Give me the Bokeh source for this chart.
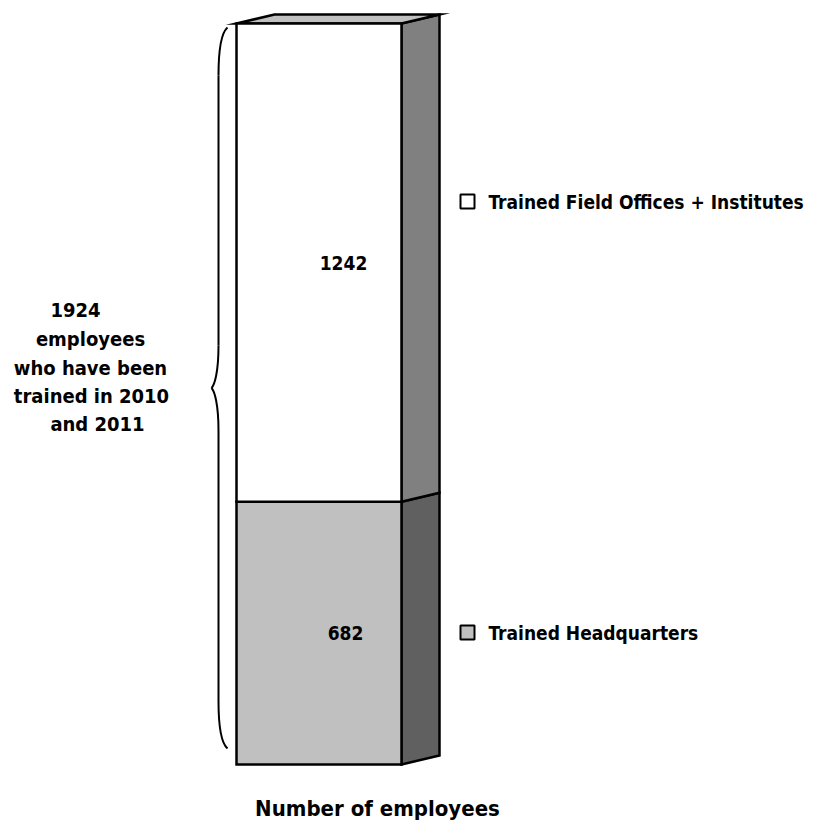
from bokeh.plotting import figure
from bokeh.models import Range1d, ColumnDataSource
from bokeh.core.properties import value
from bokeh.embed import file_html
from bokeh.resources import INLINE

# ---- data ----
categories = ["Trained Headquarters", "Trained Field Offices + Institutes"]
counts = [682, 1242]
count_labels = ["682", "1242"]
total_label_lines = ["1924", "employees", "who have been", "trained in 2010", "and 2011"]
axis_title = "Number of employees"

front_colors = ["#C0C0C0", "#FFFFFF"]
side_colors = ["#606060", "#808080"]
top_color = "#C0C0C0"

FONT = "'DejaVu Sans Condensed', 'DejaVu Sans', sans-serif"

# ---- layout (page pixel geometry) ----
W, H = 816, 822
base_py, top_py = 764, 23          # page y of value 0 and of the total
total = sum(counts)
k = (base_py - top_py) / total      # px per unit
def val(py):                        # page y -> data value
    return (base_py - py) / k

p = figure(width=W, height=H, output_backend="svg", toolbar_location=None,
           x_range=Range1d(0, W), y_range=Range1d(val(H), val(0)),
           min_border=0, outline_line_color=None, background_fill_color="white")
p.axis.visible = False
p.grid.visible = False

bx0, bx1 = 236, 401
dx, dy = 38, 9 / k

bottoms = [sum(counts[:i]) for i in range(len(counts))]
tops = [b + c for b, c in zip(bottoms, counts)]

# side faces
p.patches(xs=[[bx1, bx1 + dx, bx1 + dx, bx1] for _ in counts],
          ys=[[b, b + dy, t + dy, t] for b, t in zip(bottoms, tops)],
          fill_color=side_colors, line_color="black", line_width=2.5, line_join="miter")
# top face
p.patch(x=[bx0, bx0 + dx, bx1 + dx, bx1], y=[total, total + dy, total + dy, total],
        fill_color=top_color, line_color="black", line_width=2.5, line_join="miter")
# front faces
p.quad(left=bx0, right=bx1, bottom=bottoms, top=tops,
       fill_color=front_colors, line_color="black", line_width=2.5, line_join="miter")

# value labels
mids = [(b + t) / 2 for b, t in zip(bottoms, tops)]
p.text(x=[345, 343], y=mids, text=count_labels, text_font=value(FONT),
       text_font_style="bold", text_font_size="19px", text_align="center",
       text_baseline="middle", text_color="black")

# legend (custom, to the right)
leg_y = [val(632), val(201)]
p.scatter(x=[467, 467], y=leg_y, marker="square", size=14,
          fill_color=front_colors, line_color="black", line_width=2)
p.text(x=[488, 488], y=leg_y, text=categories, text_font=value(FONT),
       text_font_style="bold", text_font_size="19px", text_align="left",
       text_baseline="middle", text_color="black")

# brace spanning the total
b_top, b_bot = val(27), val(748)
mid = (b_top + b_bot) / 2
xe, xs_, xt = 227, 218, 211
u = (b_top - b_bot) / 721.0  # units per px along brace
bz = dict(
    x0=[xe, xs_, xt, xs_], y0=[b_top, b_top - 318 * u, mid, mid - 313 * u],
    x1=[xs_, xt, xs_, xe], y1=[b_top - 48 * u, mid, mid - 43 * u, b_bot],
    cx0=[220, xs_, 214, xs_], cy0=[b_top - 6 * u, b_top - 345 * u, mid - 3 * u, mid - 338 * u],
    cx1=[xs_, 214, xs_, 220], cy1=[b_top - 23 * u, mid + 3 * u, mid - 16 * u, b_bot + 6 * u],
)
p.bezier(source=ColumnDataSource(bz), x0="x0", y0="y0", x1="x1", y1="y1",
         cx0="cx0", cy0="cy0", cx1="cx1", cy1="cy1", line_color="black", line_width=2)
p.segment(x0=[xs_, xs_], y0=[b_top - 48 * u, mid - 43 * u], x1=[xs_, xs_],
          y1=[b_top - 318 * u, mid - 313 * u], line_color="black", line_width=2)

# total annotation on the left
line_x = [75, 90, 90, 91, 97]
line_py = [309, 338, 367, 395, 423]
p.text(x=line_x, y=[val(v) for v in line_py], text=total_label_lines,
       text_font=value(FONT), text_font_style="bold", text_font_size="20px",
       text_align="center", text_baseline="alphabetic", text_color="black")

# axis title
p.text(x=[377], y=[val(808)], text=[axis_title], text_font=value(FONT),
       text_font_style="bold", text_font_size="22px", text_align="center",
       text_baseline="alphabetic", text_color="black")

open("out.html", "w").write(file_html(p, INLINE))
